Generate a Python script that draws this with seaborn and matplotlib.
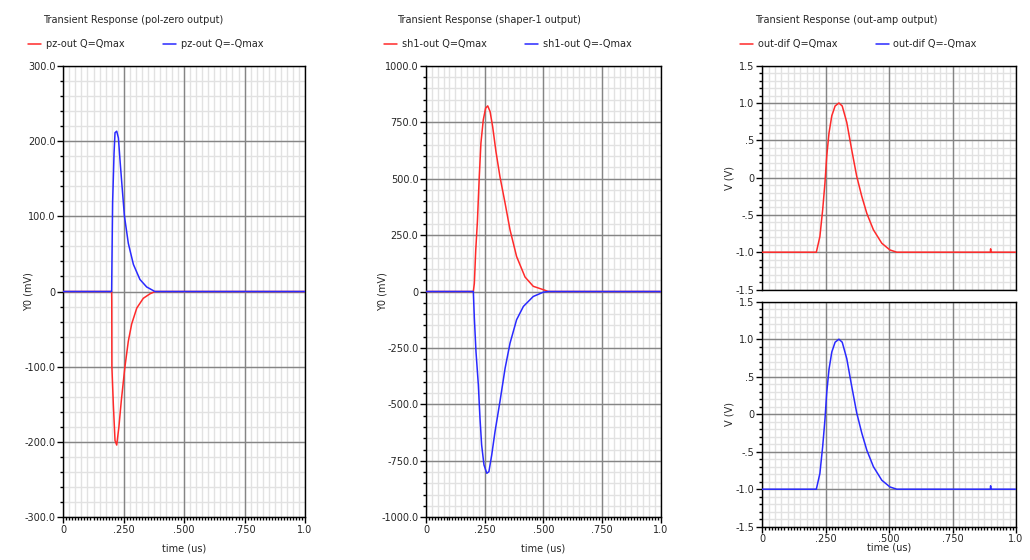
import numpy as np
import pandas as pd
import matplotlib
matplotlib.use("Agg")
import matplotlib.pyplot as plt
import seaborn as sns
from matplotlib.ticker import MultipleLocator, FixedLocator, FuncFormatter

# ---------------------------------------------------------------- data
# pol-zero output (mV)
pz_t_pos = [0, 0.200, 0.2005, 0.201, 0.207, 0.214, 0.221, 0.230, 0.240, 0.255,
            0.269, 0.283, 0.304, 0.331, 0.359, 0.380, 1.0]
pz_v_pos = [0, 0, -13, -100, -150, -198, -204, -180, -145, -100,
            -66, -43, -22, -9, -3, 0, 0]
pz_t_neg = [0, 0.200, 0.2005, 0.204, 0.210, 0.214, 0.221, 0.228, 0.235, 0.243,
            0.253, 0.269, 0.290, 0.317, 0.345, 0.379, 1.0]
pz_v_neg = [0, 0, 16, 118, 184, 211, 213, 204, 173, 140,
            100, 64, 36, 16, 6, 0, 0]

# shaper-1 output (mV)
sh_t_pos = [0, 0.2017, 0.206, 0.212, 0.219, 0.227, 0.234, 0.244, 0.254, 0.263,
            0.273, 0.284, 0.298, 0.315, 0.337, 0.358, 0.386, 0.422, 0.457,
            0.500, 0.521, 1.0]
sh_v_pos = [0, 0, 36, 184, 310, 509, 657, 760, 812, 822,
            797, 730, 620, 509, 391, 273, 155, 64, 23,
            8, 0, 0]
sh_t_neg = [0, 0.2017, 0.206, 0.213, 0.223, 0.230, 0.237, 0.247, 0.259, 0.268,
            0.280, 0.294, 0.315, 0.337, 0.358, 0.386, 0.415, 0.457, 0.500,
            0.521, 1.0]
sh_v_neg = [0, 0, -118, -267, -413, -561, -679, -768, -805, -798,
            -724, -621, -488, -340, -229, -125, -66, -22, -3,
            0, 0]

# out-amp output (V)
od_t = [0, 0.213, 0.227, 0.238, 0.247, 0.254, 0.263, 0.274, 0.287, 0.302,
        0.315, 0.333, 0.352, 0.372, 0.392, 0.412, 0.438, 0.471, 0.503,
        0.530, 0.899, 0.900, 0.901, 1.0]
od_v_pos = [-1, -1, -0.79, -0.43, -0.07, 0.29, 0.60, 0.83, 0.96, 1.0,
            0.96, 0.74, 0.38, 0.02, -0.25, -0.48, -0.70, -0.88, -0.97,
            -1, -1, -0.955, -1, -1]
od_v_neg = [-1, -1, -0.79, -0.43, -0.07, 0.29, 0.60, 0.83, 0.96, 1.0,
            0.96, 0.74, 0.38, 0.02, -0.25, -0.48, -0.70, -0.88, -0.97,
            -1, -1, -0.955, -1, -1]

x_ticks = [0, 0.25, 0.5, 0.75, 1.0]
x_labels = ["0", ".250", ".500", ".750", "1.0"]

RED = "#ff2a2a"
BLUE = "#2a2aff"

####################################################################################

def styleAxis(ax, ymin, ymax, ymajor, yminor, yfmt, xlabels=True):
    # scope-like frame, two-level grid, outward ticks
    ax.set_xlim(0, 1.0)
    ax.set_ylim(ymin, ymax)
    ax.xaxis.set_major_locator(FixedLocator(x_ticks))
    ax.xaxis.set_minor_locator(MultipleLocator(0.0125))
    ax.yaxis.set_major_locator(MultipleLocator(ymajor))
    ax.yaxis.set_minor_locator(MultipleLocator(yminor))
    ax.yaxis.set_major_formatter(FuncFormatter(yfmt))

    # minor grid
    for gx in np.arange(0.025, 1.0, 0.025):
        ax.axvline(gx, color="#e2e2e2", lw=1, zorder=0)
    for gy in np.arange(ymin + yminor, ymax, yminor):
        ax.axhline(gy, color="#e2e2e2", lw=1, zorder=0)
    # major grid
    ax.grid(True, which="major", color="#858585", lw=1, zorder=1)
    ax.set_axisbelow(True)

    ax.tick_params(axis="both", which="both", bottom=True, left=True,
                   top=False, right=False)
    ax.tick_params(axis="both", which="major", direction="out", length=4,
                   width=1, color="black", labelsize=7, pad=1.5)
    ax.tick_params(axis="both", which="minor", direction="out", length=2.5,
                   width=1, color="black")
    if xlabels:
        ax.set_xticklabels(x_labels)
    else:
        ax.tick_params(axis="x", which="both", bottom=False, labelbottom=False)
    for sp in ax.spines.values():
        sp.set_color("black")
        sp.set_linewidth(1)


def fmt_mv(v, pos):
    if abs(v) < 1e-9:
        return "0"
    return "%.1f" % v


def fmt_v(v, pos):
    if abs(v) < 1e-9:
        return "0"
    s = "%.1f" % v
    return s.replace("0.", ".") if abs(v) < 1 else s


def drawSeries(ax, t, v, color, label):
    frame = pd.DataFrame({"t": t, "v": v})
    sns.lineplot(data=frame, x="t", y="v", ax=ax, color=color, lw=1.1,
                 estimator=None, sort=False, label=label, zorder=3)

####################################################################################

sns.set_style("white")
plt.rcParams["font.family"] = ["DejaVu Sans"]

fig = plt.figure(figsize=(10.3, 5.6), dpi=100)
W, H = 1030.0, 560.0

def box(x0, x1, ytop, ybot):
    return [x0 / W, 1 - ybot / H, (x1 - x0) / W, (ybot - ytop) / H]

ax1 = fig.add_axes(box(63.3, 305, 65.7, 517.3))
ax2 = fig.add_axes(box(426, 660.7, 65.7, 517.3))
ax3 = fig.add_axes(box(762.3, 1016, 65.7, 289.5))
ax4 = fig.add_axes(box(762.3, 1016, 301.7, 526.7))

# panel 1
drawSeries(ax1, pz_t_pos, pz_v_pos, RED, "pz-out Q=Qmax")
drawSeries(ax1, pz_t_neg, pz_v_neg, BLUE, "pz-out Q=-Qmax")
styleAxis(ax1, -300, 300, 100, 20, fmt_mv)
ax1.set_ylabel("Y0 (mV)", fontsize=7)
ax1.yaxis.set_label_coords(-0.125, 0.5)

# panel 2
drawSeries(ax2, sh_t_pos, sh_v_pos, RED, "sh1-out Q=Qmax")
drawSeries(ax2, sh_t_neg, sh_v_neg, BLUE, "sh1-out Q=-Qmax")
styleAxis(ax2, -1000, 1000, 250, 50, fmt_mv)
ax2.set_ylabel("Y0 (mV)", fontsize=7)
ax2.yaxis.set_label_coords(-0.166, 0.5)

# panel 3 (two stacked strips)
drawSeries(ax3, od_t, od_v_pos, RED, "out-dif Q=Qmax")
styleAxis(ax3, -1.5, 1.5, 0.5, 0.1, fmt_v, xlabels=False)
ax3.set_ylabel("V (V)", fontsize=7)
ax3.yaxis.set_label_coords(-0.108, 0.5)

drawSeries(ax4, od_t, od_v_neg, BLUE, "out-dif Q=-Qmax")
styleAxis(ax4, -1.5, 1.5, 0.5, 0.1, fmt_v)
ax4.set_ylabel("V (V)", fontsize=7)
ax4.yaxis.set_label_coords(-0.108, 0.5)

for ax, ylab in [(ax1, -0.057), (ax2, -0.057), (ax4, -0.072)]:
    ax.set_xlabel("time (us)", fontsize=7, labelpad=0)
    ax.xaxis.set_label_coords(0.5, ylab)
ax3.set_xlabel("")

# legends sit above each column
def topLegend(ax, handles, labels, x0):
    leg = ax.legend(handles, labels, loc="center left",
                    bbox_to_anchor=(x0 / W, 1 - 44 / H),
                    bbox_transform=fig.transFigure, ncol=2, frameon=False,
                    fontsize=7, handlelength=1.3, handletextpad=0.5,
                    columnspacing=4.0, borderpad=0, borderaxespad=0)
    return leg

h1, l1 = ax1.get_legend_handles_labels()
topLegend(ax1, h1, l1, 28)
h2, l2 = ax2.get_legend_handles_labels()
topLegend(ax2, h2, l2, 384)
h3, l3 = ax3.get_legend_handles_labels()
h4, l4 = ax4.get_legend_handles_labels()
ax4.get_legend().remove()
topLegend(ax3, h3 + h4, l3 + l4, 740)

fig.text(43 / W, 1 - 20 / H, "Transient Response (pol-zero output)",
         fontsize=7, va="center", ha="left")
fig.text(397 / W, 1 - 20 / H, "Transient Response (shaper-1 output)",
         fontsize=7, va="center", ha="left")
fig.text(755 / W, 1 - 20 / H, "Transient Response (out-amp output)",
         fontsize=7, va="center", ha="left")

fig.savefig("out.png", dpi=100)
